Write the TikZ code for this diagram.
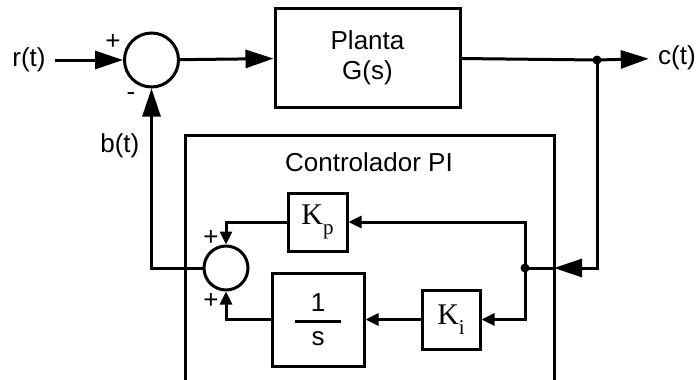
\documentclass[tikz,border=0pt]{standalone}
\usepackage{amsmath}
\usepackage{fontspec}
\setmainfont{Liberation Serif}
\setsansfont{Liberation Sans}
\usetikzlibrary{arrows.meta}

\newcommand{\gain}[1]{{\rmfamily\fontsize{15}{16}\selectfont K\raisebox{-5pt}{\fontsize{10.5}{11}\selectfont #1}}}

\begin{document}
\begin{tikzpicture}[
    x=0.5pt, y=-0.5pt, line width=1.5pt,
    font=\sffamily\fontsize{13}{15}\selectfont,
    block/.style   = {draw, align=center, inner sep=0pt},
    summer/.style  = {draw, circle, inner sep=0pt},
    sig/.style     = {inner sep=4pt},
    sgn/.style     = {inner sep=0pt},
    bigflow/.style = {-{Triangle[length=14pt, width=9pt]}},
    flow/.style    = {-{Triangle[length=6.5pt, width=6pt]}},
    junction/.style= {circle, fill, inner sep=0pt, minimum size=4.5pt},
  ]
    \useasboundingbox (0,0) rectangle (698,380);
    \clip (0,0) rectangle (698,380);

    % --- main loop ---
    \node[sig] (rt) at (29,60) {r(t)};
    \node[summer, minimum size=27pt] (sum1) at (151.5,60) {};
    \node[block, minimum width=92.5pt, minimum height=49.5pt] (plant) at (367.5,57.5) {Planta\\ G(s)};
    \coordinate (split) at (597,60);
    \node[sig] (ct) at (677,58) {c(t)};
    \node[sgn] (pl1) at (113,42) {+};
    \node[sgn] (mi1) at (131,97) {-};

    % --- PI controller ---
    \node[draw, minimum width=184.5pt, minimum height=130pt] (ctrl) at (369.5,265) {};
    \node (title) at (369,162) {Controlador PI};
    \node[block, minimum width=29.5pt, minimum height=29pt] (kp) at (317.5,222) {\gain{p}};
    \node[block, minimum width=46pt, minimum height=46.5pt] (integ) at (318,319.5)
      {$\genfrac{}{}{1.4pt}{0}{\makebox[23pt]{\sffamily 1}}{\makebox[23pt]{\sffamily s}}$};
    \node[block, minimum width=29pt, minimum height=29.5pt] (ki) at (451,319.5) {\gain{i}};
    \node[summer, minimum size=22pt] (sum2) at (226,268) {};
    \coordinate (cin) at (554,268);
    \coordinate (tap) at (525,268);
    \node[sgn] (pl2) at (211,238) {+};
    \node[sgn] (pl3) at (211,301) {+};

    % --- forward path ---
    \draw[bigflow] (rt) -- (sum1);
    \draw[bigflow] (sum1) -- (plant);
    \draw (plant) -- (split);
    \draw[bigflow] (split) -- (ct);
    \node[junction] at (split) {};

    % --- feedback into the controller ---
    \draw[bigflow] (split) |- (cin);
    \draw (cin) -- (tap);
    \node[junction] at (tap) {};
    \draw[flow] (tap) |- (kp);
    \draw[flow] (tap) |- (ki);
    \draw[flow] (ki) -- (integ);
    \draw[flow] (kp) -| (sum2);
    \draw[flow] (integ) -| (sum2);
    \draw[bigflow] (sum2) -| node[pos=0.84, left=2pt] {b(t)} (sum1);
  \end{tikzpicture}
\end{document}
